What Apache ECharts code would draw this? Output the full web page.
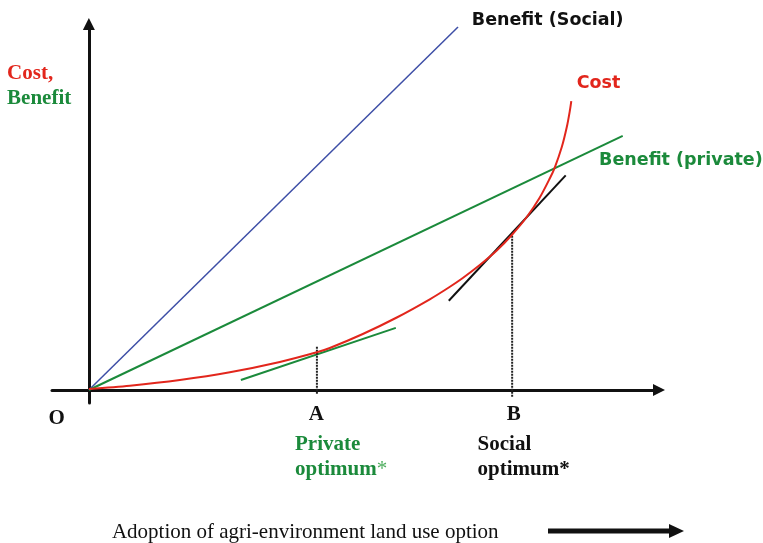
<!DOCTYPE html>
<html>
<head>
<meta charset="utf-8">
<script src="https://cdn.jsdelivr.net/npm/echarts@6.0.0/dist/echarts.min.js"></script>
<style>
html,body{margin:0;padding:0;background:#fff;}
#chart{width:763px;height:543px;}
</style>
</head>
<body>
<div id="chart"></div>
<script>
// ---- data (conceptual units: adoption on x, cost/benefit on y) ----
const benefitSocial = [[0, 0], [64.1, 97.6]];
const benefitPrivate = [[0, 0], [92.7, 68.3]];
const cost = [[0,0.27],[7.12,1.16],[15.8,2.69],[24.48,4.76],[33.16,7.53],[39.58,10.13],[41.84,11.29],[47.57,15.05],[53.47,19.49],[59.2,24.38],[62.5,27.55],[64.93,30.11],[67.88,33.6],[70.83,37.5],[73.44,41.67],[76.04,46.51],[78.3,51.75],[80.03,56.85],[80.9,59.81],[82.12,65.32],[82.99,70.7],[83.51,75.0],[83.77,77.69]];
const privateTangent = [[26.4, 2.7], [53.3, 16.7]];
const socialTangent = [[62.5, 24.0], [82.8, 57.7]];
const optimumA = [[39.6, 11.6], [39.6, -1.3]];
const optimumB = [[73.5, 41.5], [73.5, -1.9]];
const axisRangeX = [-6.4, 99];
const axisRangeY = [-3.5, 98.4];
const labelTexts = ['Benefit (Social)', 'Cost', 'Benefit (private)', 'Cost,', 'Benefit', 'O', 'A', 'B', 'Private', 'optimum*', 'Social', 'optimum*', 'Adoption of agri-environment land use option'];

// ---- styles ----
const RED = '#e2261c', GREEN = '#1b8a3b', BLUE = '#3d4ea6', BLACK = '#111';
const SANS = '"DejaVu Sans", sans-serif';
const SERIF = '"Liberation Serif", serif';

function lineSeries(name, data, color, width, extra) {
  return Object.assign({
    name: name, type: 'line', data: data, symbol: 'none', silent: true,
    lineStyle: { color: color, width: width }, z: 3
  }, extra || {});
}

function lab(text, x, y, pos, font) {
  return {
    value: [x, y],
    label: Object.assign({
      show: true, formatter: text, position: pos, distance: 0,
      align: pos === 'inside' ? 'center' : 'left', verticalAlign: 'middle'
    }, font)
  };
}
const sansBold = c => ({ fontFamily: SANS, fontWeight: 'bold', fontSize: 17.5, color: c });
const serifBold = c => ({ fontFamily: SERIF, fontWeight: 'bold', fontSize: 21, color: c });

const labels = [
  lab(labelTexts[0], 66.5, 99.4, 'right', sansBold(BLACK)),
  lab(labelTexts[1], 84.7, 82.3, 'right', sansBold(RED)),
  lab(labelTexts[2], 88.6, 61.8, 'right', sansBold(GREEN)),
  lab(labelTexts[3], -14.2, 85.0, 'right', serifBold(RED)),
  lab(labelTexts[4], -14.2, 78.3, 'right', serifBold(GREEN)),
  lab(labelTexts[5], -5.6, -7.8, 'inside', serifBold(BLACK)),
  lab(labelTexts[6], 39.5, -6.5, 'inside', serifBold(BLACK)),
  lab(labelTexts[7], 73.8, -6.5, 'inside', serifBold(BLACK)),
  lab(labelTexts[8], 35.8, -14.8, 'right', serifBold(GREEN)),
  {
    value: [35.8, -21.5],
    label: {
      show: true, position: 'right', distance: 0, align: 'left', verticalAlign: 'middle',
      formatter: '{g|optimum}{s|*}',
      rich: {
        g: serifBold(GREEN),
        s: { fontFamily: SERIF, fontWeight: 'normal', fontSize: 21, color: '#4fae5f' }
      }
    }
  },
  lab(labelTexts[10], 67.5, -14.8, 'right', serifBold(BLACK)),
  lab(labelTexts[11], 67.5, -21.5, 'right', serifBold(BLACK)),
  lab(labelTexts[12], 4.0, -38.3, 'right', { fontFamily: SERIF, fontWeight: 'normal', fontSize: 21, color: BLACK })
];

const axisCommon = {
  type: 'value',
  axisLine: {
    show: true, onZero: true,
    lineStyle: { color: BLACK, width: 3 },
    symbol: ['none', 'triangle'], symbolSize: [12, 12]
  },
  axisTick: { show: false },
  axisLabel: { show: false },
  splitLine: { show: false }
};

const chart = echarts.init(document.getElementById('chart'), null, { renderer: 'canvas' });
chart.setOption({
  animation: false,
  backgroundColor: '#fff',
  grid: { left: 52, right: 104, top: 24, bottom: 140, containLabel: false },
  xAxis: Object.assign({ min: axisRangeX[0], max: axisRangeX[1] }, axisCommon),
  yAxis: Object.assign({ min: axisRangeY[0], max: axisRangeY[1] }, axisCommon),
  series: [
    lineSeries('Benefit (Social)', benefitSocial, BLUE, 1.5),
    lineSeries('Benefit (private)', benefitPrivate, GREEN, 2),
    lineSeries('Private tangent', privateTangent, GREEN, 2),
    lineSeries('Social tangent', socialTangent, BLACK, 2),
    lineSeries('Cost', cost, RED, 2, { smooth: 0.3, z: 4 }),
    lineSeries('A', optimumA, '#222', 2, { lineStyle: { color: '#222', width: 2, type: [2, 1] } }),
    lineSeries('B', optimumB, '#222', 2, { lineStyle: { color: '#222', width: 2, type: [2, 1] } }),
    {
      name: 'labels', type: 'scatter', data: labels, symbolSize: 0, clip: false, silent: true, z: 5,
      itemStyle: { opacity: 1 }
    }
  ],
  graphic: [
    { type: 'rect', shape: { x: 548, y: 528.5, width: 124, height: 5 }, style: { fill: BLACK } },
    { type: 'polygon', shape: { points: [[669, 524], [684, 531], [669, 538]] }, style: { fill: BLACK } }
  ]
});
</script>
</body>
</html>
